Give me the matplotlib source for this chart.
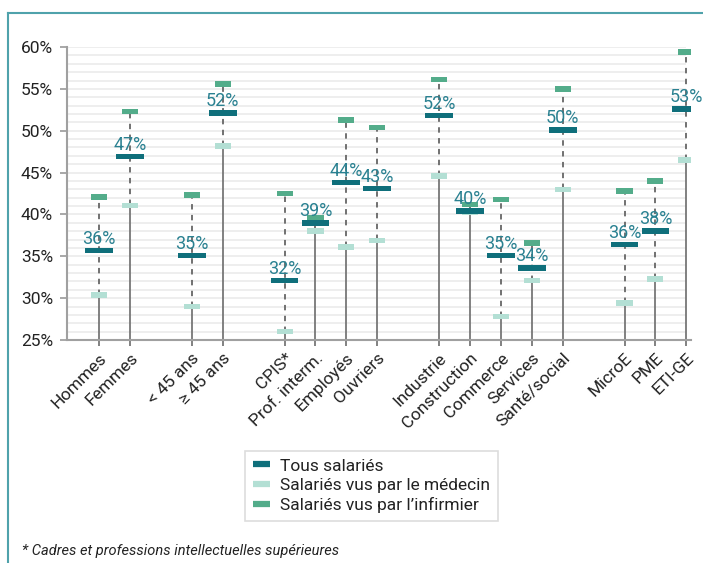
import numpy as np
import matplotlib.pyplot as plt
from matplotlib.lines import Line2D

plt.rcParams['font.family'] = ['Roboto', 'DejaVu Sans']

categories = ['Hommes', 'Femmes', '< 45 ans', '≥ 45 ans',
              'CPIS*', 'Prof. interm.', 'Employés', 'Ouvriers',
              'Industrie', 'Construction', 'Commerce', 'Services', 'Santé/social',
              'MicroE', 'PME', 'ETI-GE']
# position sur l'axe (un espace entre les groupes)
positions = [0, 1, 3, 4, 6, 7, 8, 9, 11, 12, 13, 14, 15, 17, 18, 19]

tous = [35.7, 46.9, 35.1, 52.1, 32.1, 39.0, 43.8, 43.1,
        51.8, 40.4, 35.1, 33.6, 50.1, 36.4, 38.0, 52.6]
medecin = [30.4, 41.1, 29.0, 48.2, 26.0, 38.0, 36.1, 36.9,
           44.6, 40.3, 27.8, 32.1, 43.0, 29.4, 32.3, 46.5]
infirmier = [42.1, 52.3, 42.3, 55.6, 42.5, 39.6, 51.3, 50.4,
             56.1, 41.2, 41.8, 36.6, 55.0, 42.8, 44.0, 59.4]

c_tous = '#0f6f7b'
c_med = '#b3dfd4'
c_inf = '#53ac8a'

fig = plt.figure(figsize=(7.03, 5.63), dpi=100)
ax = fig.add_axes([0.0953, 0.396, 0.888, 0.5205])

x = np.array(positions)
ymin = 25

# grille horizontale tous les 1%
for g in range(26, 61):
    ax.hlines(g, -1.04, 19, color='#ebebeb', lw=1.2, zorder=0)

# traits verticaux
ax.vlines(x, ymin, medecin, color='#777777', lw=1.3, zorder=1)
ax.vlines(x, medecin, infirmier, color='#666666', lw=1.3, linestyles=(0, (3, 3)), zorder=1)

h = 0.65
ax.bar(x, h, bottom=np.array(medecin) - h / 2, width=0.52, color=c_med, zorder=3)
ax.bar(x, h, bottom=np.array(infirmier) - h / 2, width=0.52, color=c_inf, zorder=3)
ax.bar(x, h, bottom=np.array(tous) - h / 2, width=0.9, color=c_tous, zorder=4)

for xi, v in zip(x, tous):
    ax.text(xi, v + 0.35, '%d%%' % round(v), ha='center', va='bottom',
            color='#2a8191', fontsize=13, zorder=5)

ax.set_xlim(-1.04, 19.16)
ax.set_ylim(25, 60)
ax.set_yticks(range(25, 61, 5))
ax.set_yticklabels(['%d%%' % t for t in range(25, 61, 5)], fontsize=12.5, color='#222222')
ax.set_xticks(x)
ax.set_xticklabels(categories, rotation=45, ha='right', rotation_mode='anchor',
                   fontsize=12.5, color='#222222')
ax.tick_params(axis='x', length=4.5, color='#777777', width=1.3, pad=3)
ax.tick_params(axis='y', length=5, color='#999999', width=1.2, pad=5)

for s in ['top', 'right']:
    ax.spines[s].set_visible(False)
for s in ['left', 'bottom']:
    ax.spines[s].set_color('#a0a0a0')
    ax.spines[s].set_linewidth(1.5)

handles = [Line2D([], [], color=c_tous, lw=4.5, solid_capstyle='butt'),
           Line2D([], [], color=c_med, lw=4.5, solid_capstyle='butt'),
           Line2D([], [], color=c_inf, lw=4.5, solid_capstyle='butt')]
labels = ['Tous salariés', 'Salariés vus par le médecin', 'Salariés vus par l\u2019infirmier']
leg = fig.legend(handles, labels, loc='center', bbox_to_anchor=(0.5285, 0.137),
                 bbox_transform=fig.transFigure, fontsize=12.5, frameon=True,
                 fancybox=False, edgecolor='#d4d4d4', handlelength=1.0,
                 handletextpad=0.6, labelspacing=0.25, borderpad=0.45, borderaxespad=0)
leg.get_frame().set_linewidth(1.2)
for t in leg.get_texts():
    t.set_color('#222222')

fig.text(0.031, 0.021, '* Cadres et professions intellectuelles supérieures',
         fontsize=10.5, style='italic', color='#222222', va='center')

# cadre turquoise
fig.add_artist(Line2D([0.0107, 0.0107], [0, 0.977], color='#4fa2ab', lw=1.5, transform=fig.transFigure))
fig.add_artist(Line2D([0.0107, 1], [0.977, 0.977], color='#4fa2ab', lw=1.5, transform=fig.transFigure))

fig.savefig('out.png', dpi=100)
